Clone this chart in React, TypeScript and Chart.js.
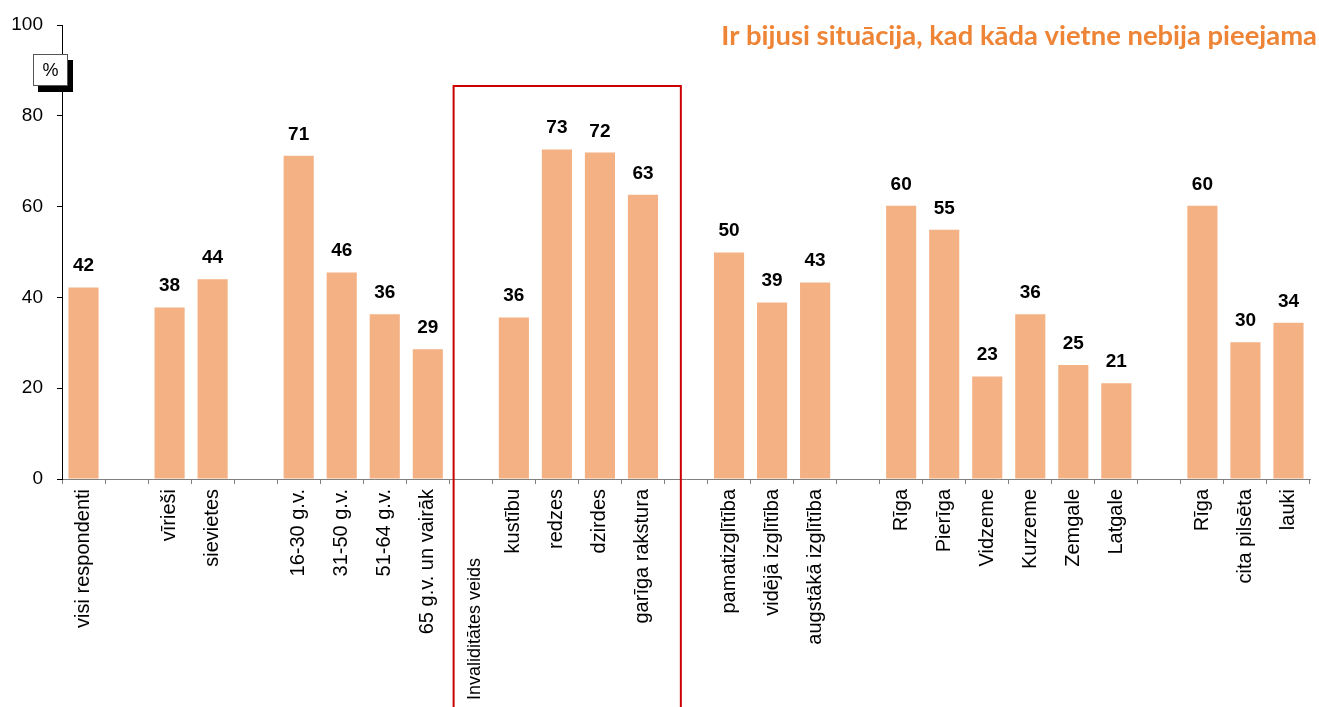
import React, { useEffect, useRef } from "react";
import { Chart, registerables } from "chart.js";

Chart.register(...registerables);

const categories: string[] = [
  "visi respondenti", "",
  "vīrieši", "sievietes", "",
  "16-30 g.v.", "31-50 g.v.", "51-64 g.v.", "65 g.v. un vairāk", "",
  "kustību", "redzes", "dzirdes", "garīga rakstura", "",
  "pamatizglītība", "vidējā izglītība", "augstākā izglītība", "",
  "Rīga", "Pierīga", "Vidzeme", "Kurzeme", "Zemgale", "Latgale", "",
  "Rīga", "cita pilsēta", "lauki",
];

const values: (number | null)[] = [
  42.2, null,
  37.8, 44.0, null,
  71.2, 45.5, 36.3, 28.6, null,
  35.6, 72.6, 71.9, 62.6, null,
  49.9, 38.9, 43.3, null,
  60.2, 54.9, 22.6, 36.3, 25.1, 21.1, null,
  60.2, 30.1, 34.4,
];

const yTicks: number[] = [0, 20, 40, 60, 80, 100];

const titleText = "Ir bijusi situācija, kad kāda vietne nebija pieejama";
const groupLabel = "Invaliditātes veids";
const unitLabel = "%";

const FONT = "'Liberation Sans', Arial, sans-serif";

const extrasPlugin = {
  id: "extras",
  afterDraw(chart: any) {
    const ctx = chart.ctx as CanvasRenderingContext2D;
    const meta = chart.getDatasetMeta(0);
    const xScale = chart.scales.x;

    ctx.save();
    // data labels
    ctx.fillStyle = "#000";
    ctx.font = `bold 19px ${FONT}`;
    ctx.textAlign = "center";
    ctx.textBaseline = "alphabetic";
    meta.data.forEach((bar: any, i: number) => {
      const v = values[i];
      if (v == null) return;
      ctx.fillText(String(Math.round(v)), bar.x, bar.y - 16);
    });

    // red frame around disability group
    const gi = categories.indexOf("kustību") - 1;
    const step = xScale.getPixelForValue(1) - xScale.getPixelForValue(0);
    const left = xScale.getPixelForValue(gi) - step * 0.4;
    const right = xScale.getPixelForValue(gi + 4) + step * 0.88;
    ctx.strokeStyle = "#CC0000";
    ctx.lineWidth = 2;
    ctx.strokeRect(left, 86, right - left, 700);

    // group label
    ctx.save();
    ctx.translate(xScale.getPixelForValue(gi) + 4, 700);
    ctx.rotate(-Math.PI / 2);
    ctx.font = `18px ${FONT}`;
    ctx.textAlign = "left";
    ctx.textBaseline = "middle";
    ctx.fillStyle = "#000";
    ctx.fillText(groupLabel, 0, 0);
    ctx.restore();

    // % box with shadow
    ctx.fillStyle = "#000";
    ctx.fillRect(38, 60, 35, 32);
    ctx.fillStyle = "#fff";
    ctx.fillRect(33, 54, 35, 32);
    ctx.strokeStyle = "#555";
    ctx.lineWidth = 1;
    ctx.strokeRect(33.5, 54.5, 34, 31);
    ctx.fillStyle = "#000";
    ctx.font = `18px ${FONT}`;
    ctx.textAlign = "center";
    ctx.textBaseline = "middle";
    ctx.fillText(unitLabel, 50.5, 71);

    // title, fitted to width
    let size = 26;
    ctx.textAlign = "right";
    ctx.textBaseline = "alphabetic";
    ctx.font = `bold ${size}px Lato, 'Open Sans', sans-serif`;
    const w = ctx.measureText(titleText).width;
    size = size * (596 / w);
    ctx.font = `bold ${size}px Lato, 'Open Sans', sans-serif`;
    ctx.fillStyle = "#EE8436";
    ctx.fillText(titleText, 1317, 45);
    ctx.restore();
  },
};

export default function App() {
  const ref = useRef<HTMLCanvasElement | null>(null);

  useEffect(() => {
    document.body.style.margin = "0";
    const canvas = ref.current;
    if (!canvas) return;
    const chart = new Chart(canvas, {
      type: "bar",
      data: {
        labels: categories,
        datasets: [
          {
            data: values as any,
            backgroundColor: "#F4B183",
            borderWidth: 0,
            barPercentage: 0.7,
            categoryPercentage: 1.0,
          },
        ],
      },
      options: {
        animation: false,
        responsive: false,
        maintainAspectRatio: false,
        layout: { padding: { top: 25, right: 9, left: 0, bottom: 0 } },
        plugins: {
          legend: { display: false },
          tooltip: { enabled: false },
          title: { display: false },
        },
        scales: {
          x: {
            type: "category",
            offset: true,
            grid: {
              display: true,
              drawOnChartArea: false,
              drawTicks: true,
              tickLength: 5,
              color: "#808080",
              offset: true,
            },
            border: { display: true, color: "#808080", width: 1 },
            ticks: {
              autoSkip: false,
              maxRotation: 90,
              minRotation: 90,
              padding: 5,
              color: "#000",
              font: { size: 20, family: FONT },
            },
            afterFit: (scale: any) => {
              scale.height = 707 - 479;
              scale.paddingLeft = 0;
              scale.paddingRight = 0;
            },
          },
          y: {
            min: 0,
            max: 100,
            afterBuildTicks: (scale: any) => {
              scale.ticks = yTicks.map((v) => ({ value: v }));
            },
            grid: {
              display: true,
              drawOnChartArea: false,
              drawTicks: true,
              tickLength: 5,
              color: "#000",
            },
            border: { display: true, color: "#000", width: 1 },
            ticks: {
              padding: 14,
              color: "#000",
              font: { size: 19, family: FONT },
            },
            afterFit: (scale: any) => {
              scale.width = 62;
              scale.paddingTop = 0;
              scale.paddingBottom = 0;
            },
          },
        },
      },
      plugins: [extrasPlugin],
    });
    return () => chart.destroy();
  }, []);

  return (
    <div style={{ width: 1319, height: 707, position: "relative" }}>
      <canvas ref={ref} width={1319} height={707} style={{ display: "block" }} />
    </div>
  );
}
